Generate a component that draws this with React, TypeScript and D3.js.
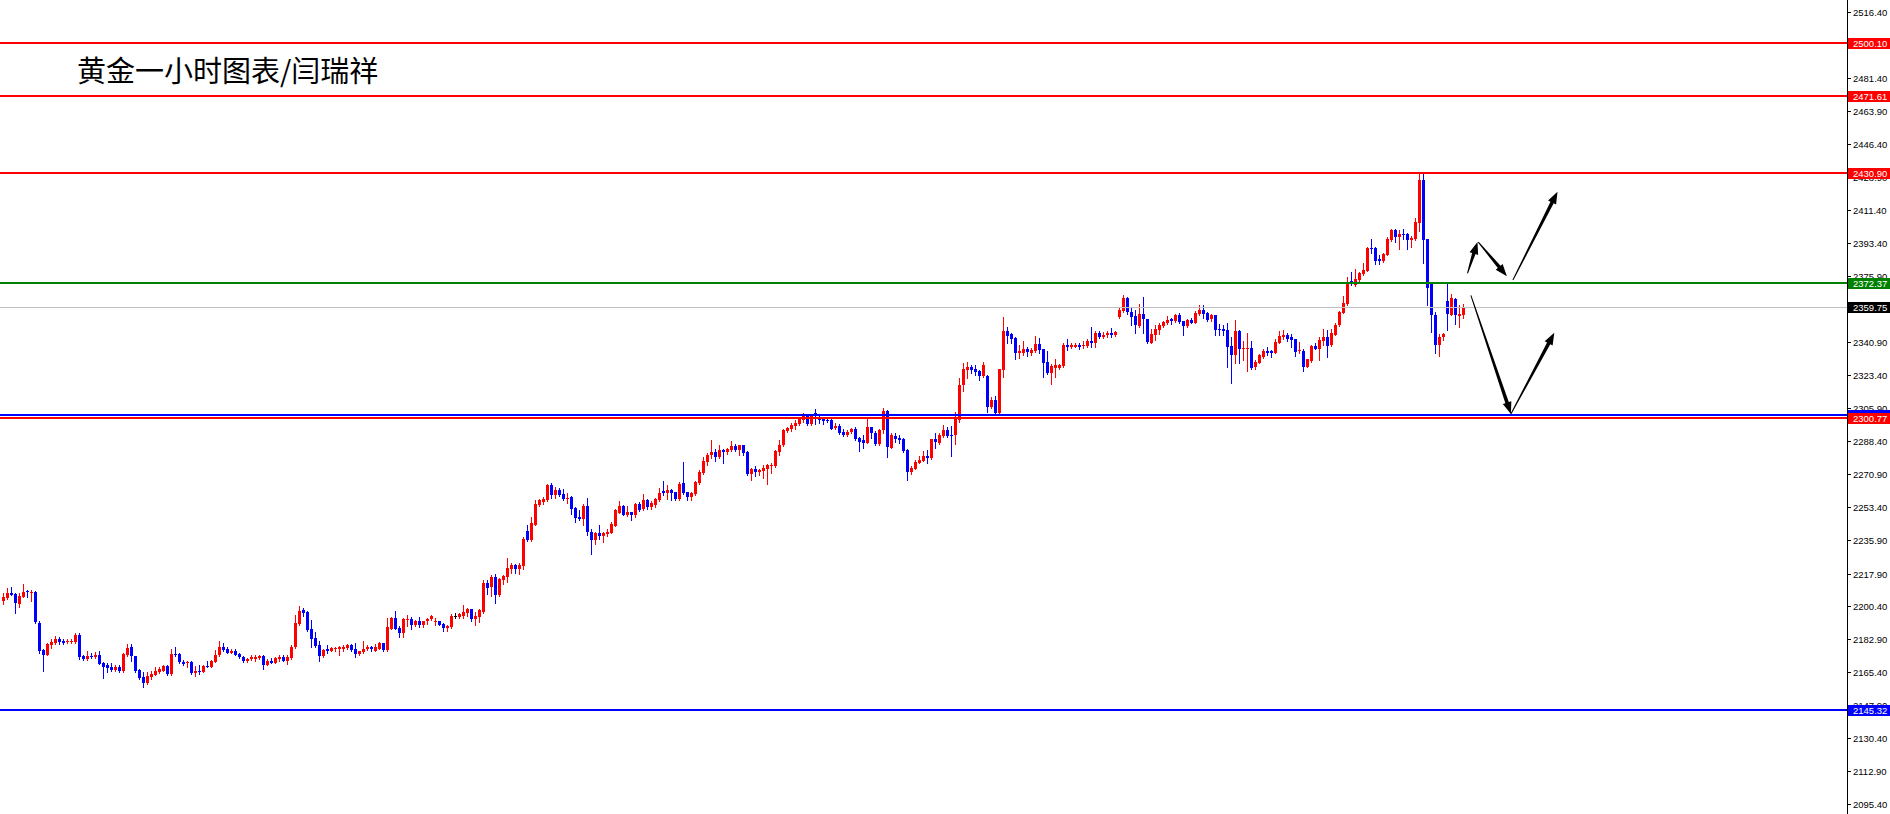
import { useEffect, useRef } from "react";
import * as d3 from "d3";

const W = 1890;
const H = 814;

const opens = [
  2203.5, 2204.7, 2207.7, 2207.0, 2201.7, 2205.6, 2208.8, 2207.9, 2208.1, 2191.8,
  2177.2, 2174.8, 2179.7, 2180.8, 2182.9, 2182.2, 2181.3, 2181.3, 2181.5, 2185.2,
  2174.1, 2172.3, 2174.1, 2173.3, 2174.6, 2170.2, 2169.1, 2168.4, 2166.6, 2168.0,
  2166.3, 2174.6, 2178.8, 2174.1, 2166.6, 2163.1, 2159.5, 2162.7, 2164.1, 2165.5,
  2166.3, 2168.7, 2164.5, 2175.1, 2175.1, 2170.9, 2170.2, 2170.9, 2164.8, 2166.3,
  2165.7, 2168.7, 2168.4, 2171.0, 2174.4, 2178.6, 2177.8, 2175.8, 2176.9, 2175.1,
  2173.7, 2171.2, 2172.3, 2172.3, 2173.0, 2174.1, 2169.4, 2171.6, 2170.5, 2172.3,
  2173.7, 2171.6, 2173.0, 2178.6, 2191.1, 2198.5, 2197.3, 2188.2, 2183.6, 2179.7,
  2174.1, 2177.9, 2176.9, 2177.6, 2177.9, 2177.6, 2178.3, 2179.7, 2177.9, 2175.1,
  2176.2, 2177.6, 2178.6, 2176.9, 2177.9, 2180.8, 2177.2, 2188.6, 2194.3, 2188.8,
  2186.1, 2193.2, 2193.5, 2190.5, 2192.7, 2190.5, 2192.8, 2193.5, 2192.0, 2192.7,
  2191.1, 2189.1, 2189.3, 2195.6, 2194.6, 2195.3, 2196.8, 2198.9, 2193.7, 2195.0,
  2197.6, 2213.0, 2210.6, 2216.2, 2206.5, 2214.5, 2216.2, 2220.3, 2222.4, 2220.3,
  2221.9, 2240.7, 2235.7, 2243.9, 2254.3, 2256.1, 2257.0, 2265.0, 2259.6, 2262.3,
  2260.0, 2257.7, 2258.4, 2252.7, 2248.0, 2246.7, 2253.8, 2240.2, 2235.7, 2239.3,
  2237.9, 2238.9, 2239.6, 2243.3, 2250.3, 2253.8, 2249.2, 2250.6, 2249.2, 2254.9,
  2252.0, 2257.0, 2253.4, 2254.5, 2256.9, 2261.7, 2260.5, 2262.2, 2261.0, 2257.3,
  2265.8, 2261.0, 2258.7, 2260.1, 2265.8, 2271.1, 2277.3, 2280.9, 2282.4, 2279.6,
  2283.5, 2282.4, 2283.5, 2285.6, 2283.5, 2286.0, 2282.4, 2270.8, 2273.4, 2272.0,
  2272.5, 2273.6, 2275.2, 2275.0, 2282.4, 2286.2, 2293.8, 2294.7, 2296.3, 2297.3,
  2299.5, 2301.9, 2297.3, 2303.0, 2300.5, 2300.0, 2299.5, 2299.5, 2295.2, 2296.3,
  2293.4, 2291.5, 2293.1, 2294.7, 2290.1, 2288.8, 2287.4, 2295.7, 2292.7, 2286.7,
  2294.2, 2304.5, 2284.8, 2291.0, 2290.1, 2289.6, 2283.6, 2272.1, 2273.7, 2276.9,
  2277.9, 2280.4, 2279.1, 2289.3, 2287.5, 2291.0, 2294.2, 2291.5, 2291.6, 2299.5,
  2318.0, 2326.1, 2327.5, 2326.6, 2325.5, 2322.9, 2322.9, 2306.6, 2310.1, 2303.0,
  2326.1, 2347.0, 2345.2, 2342.9, 2335.3, 2335.3, 2337.4, 2335.3, 2336.2, 2339.9,
  2337.1, 2330.3, 2324.7, 2327.1, 2327.3, 2328.2, 2339.4, 2338.5, 2338.5, 2339.5,
  2338.8, 2339.0, 2341.7, 2340.2, 2345.9, 2343.8, 2344.5, 2345.9, 2344.5, 2354.1,
  2357.6, 2364.2, 2356.9, 2354.8, 2349.6, 2355.8, 2353.0, 2340.6, 2344.8, 2347.3,
  2349.5, 2350.9, 2353.0, 2352.3, 2355.5, 2351.9, 2349.5, 2352.6, 2351.2, 2355.8,
  2358.0, 2356.2, 2353.0, 2355.1, 2347.7, 2347.7, 2347.3, 2338.8, 2334.2, 2346.6,
  2337.1, 2337.4, 2337.8, 2327.5, 2330.0, 2333.2, 2336.4, 2336.0, 2335.3, 2340.6,
  2343.8, 2344.5, 2343.8, 2342.4, 2336.0, 2336.4, 2327.8, 2330.7, 2338.8, 2337.4,
  2341.7, 2343.8, 2339.2, 2344.8, 2349.8, 2356.5, 2361.2, 2373.6, 2371.1, 2373.9,
  2377.1, 2378.9, 2390.9, 2390.9, 2384.9, 2384.2, 2387.4, 2395.2, 2400.5, 2396.9,
  2398.3, 2398.3, 2395.2, 2395.9, 2404.0, 2427.1, 2395.5, 2372.5, 2355.5, 2339.2,
  2343.4, 2362.6, 2355.5, 2364.0, 2354.8, 2355.5,
];

const highs = [
  2207.7, 2210.2, 2210.7, 2207.4, 2207.7, 2212.3, 2209.1, 2209.1, 2208.4, 2192.7,
  2177.6, 2180.8, 2182.9, 2184.7, 2184.0, 2183.3, 2182.9, 2182.9, 2186.1, 2186.1,
  2174.4, 2176.9, 2175.5, 2176.2, 2176.9, 2170.9, 2170.2, 2170.2, 2169.1, 2169.4,
  2175.5, 2180.4, 2180.3, 2174.1, 2167.0, 2165.5, 2165.5, 2165.9, 2168.0, 2168.0,
  2169.3, 2169.4, 2177.9, 2178.6, 2175.5, 2171.9, 2171.2, 2171.2, 2168.7, 2169.4,
  2169.4, 2171.2, 2171.9, 2177.2, 2182.2, 2180.8, 2178.6, 2177.9, 2177.6, 2175.5,
  2174.1, 2173.0, 2174.4, 2174.4, 2174.8, 2174.4, 2172.3, 2173.0, 2173.7, 2174.4,
  2174.4, 2174.8, 2179.7, 2195.8, 2200.6, 2199.6, 2197.8, 2193.2, 2186.8, 2182.2,
  2177.9, 2179.7, 2179.0, 2179.0, 2179.4, 2179.7, 2180.4, 2180.4, 2181.1, 2176.9,
  2182.2, 2180.1, 2179.4, 2180.4, 2181.5, 2181.1, 2194.3, 2194.6, 2197.8, 2190.0,
  2194.1, 2195.9, 2194.6, 2193.2, 2194.6, 2192.8, 2194.4, 2195.9, 2194.1, 2192.8,
  2191.8, 2190.7, 2196.4, 2197.1, 2197.1, 2201.3, 2199.4, 2199.2, 2197.6, 2198.9,
  2214.5, 2214.5, 2216.9, 2217.6, 2215.3, 2217.3, 2226.2, 2223.7, 2223.0, 2223.3,
  2237.1, 2243.7, 2247.8, 2257.0, 2257.7, 2258.8, 2265.5, 2266.2, 2263.7, 2263.4,
  2263.0, 2260.5, 2259.1, 2253.4, 2251.7, 2254.9, 2258.1, 2241.6, 2240.2, 2243.5,
  2240.2, 2241.7, 2245.3, 2252.0, 2256.6, 2254.5, 2253.8, 2250.6, 2255.6, 2255.9,
  2260.2, 2257.7, 2256.5, 2258.0, 2263.3, 2267.2, 2264.9, 2262.6, 2261.5, 2266.8,
  2277.1, 2261.5, 2261.2, 2267.2, 2272.9, 2280.0, 2282.1, 2288.8, 2284.2, 2286.2,
  2284.2, 2284.9, 2288.1, 2287.0, 2286.3, 2286.3, 2282.8, 2273.8, 2275.0, 2273.6,
  2275.4, 2276.1, 2276.8, 2283.5, 2288.8, 2295.0, 2295.9, 2297.7, 2299.5, 2300.9,
  2303.0, 2302.6, 2302.6, 2305.3, 2302.3, 2301.2, 2300.5, 2300.5, 2297.7, 2297.3,
  2294.5, 2294.1, 2295.2, 2295.6, 2290.6, 2291.3, 2300.2, 2295.9, 2293.8, 2294.7,
  2305.9, 2304.9, 2292.5, 2292.5, 2291.6, 2290.0, 2283.9, 2275.1, 2278.3, 2280.4,
  2282.9, 2283.6, 2289.6, 2292.5, 2292.5, 2296.7, 2296.0, 2296.3, 2304.0, 2322.0,
  2330.0, 2330.3, 2328.7, 2328.6, 2326.1, 2330.5, 2323.2, 2311.9, 2312.2, 2326.8,
  2354.4, 2349.1, 2345.9, 2343.4, 2339.4, 2341.7, 2338.5, 2337.6, 2344.1, 2342.9,
  2337.4, 2336.0, 2329.3, 2331.7, 2329.3, 2340.2, 2342.4, 2340.2, 2340.6, 2340.2,
  2341.7, 2342.4, 2349.1, 2346.6, 2347.0, 2346.3, 2347.0, 2348.4, 2347.0, 2359.7,
  2366.0, 2365.1, 2359.0, 2358.0, 2361.2, 2365.1, 2353.4, 2347.7, 2350.0, 2350.9,
  2352.3, 2354.8, 2353.7, 2355.8, 2356.2, 2352.3, 2353.3, 2353.7, 2357.3, 2360.4,
  2360.4, 2356.9, 2355.8, 2355.5, 2350.5, 2350.2, 2350.9, 2343.8, 2352.6, 2347.3,
  2341.3, 2345.6, 2341.3, 2331.4, 2334.6, 2337.4, 2338.1, 2336.7, 2342.4, 2347.0,
  2347.3, 2345.6, 2345.2, 2342.7, 2341.0, 2337.1, 2332.1, 2339.5, 2340.2, 2343.8,
  2348.0, 2347.3, 2347.7, 2350.9, 2357.6, 2365.4, 2375.3, 2378.2, 2379.9, 2378.2,
  2383.1, 2391.6, 2395.5, 2391.6, 2387.0, 2388.4, 2396.6, 2400.8, 2401.2, 2400.5,
  2400.8, 2398.7, 2397.3, 2406.7, 2430.6, 2430.6, 2395.9, 2372.8, 2356.9, 2345.5,
  2345.9, 2372.5, 2366.4, 2364.3, 2360.4, 2361.1,
];

const lows = [
  2201.7, 2204.2, 2206.5, 2197.1, 2199.9, 2205.2, 2205.6, 2203.5, 2191.8, 2175.8,
  2166.3, 2174.4, 2178.5, 2180.4, 2180.4, 2180.4, 2181.1, 2180.8, 2181.1, 2172.6,
  2171.9, 2171.9, 2173.0, 2173.0, 2169.8, 2162.5, 2165.7, 2166.3, 2166.3, 2165.7,
  2165.7, 2174.1, 2171.4, 2165.7, 2161.6, 2157.4, 2159.2, 2162.0, 2163.8, 2165.2,
  2165.9, 2164.1, 2164.1, 2174.1, 2170.5, 2169.4, 2168.0, 2164.5, 2163.4, 2164.5,
  2165.5, 2168.0, 2168.0, 2170.7, 2174.1, 2176.9, 2175.5, 2175.5, 2174.4, 2173.0,
  2170.9, 2170.9, 2171.9, 2171.6, 2172.6, 2167.3, 2169.1, 2170.2, 2170.2, 2171.6,
  2171.2, 2169.8, 2172.6, 2178.3, 2190.7, 2195.3, 2187.5, 2178.6, 2178.6, 2171.6,
  2173.7, 2175.8, 2176.5, 2176.9, 2174.8, 2176.9, 2177.9, 2176.9, 2173.3, 2174.8,
  2175.5, 2177.2, 2176.5, 2176.5, 2177.6, 2176.9, 2176.9, 2188.2, 2188.2, 2184.3,
  2184.0, 2190.0, 2188.6, 2190.2, 2189.3, 2189.3, 2191.1, 2193.2, 2190.5, 2190.4,
  2187.3, 2187.5, 2188.9, 2194.3, 2194.3, 2194.3, 2195.6, 2192.8, 2190.7, 2192.3,
  2197.1, 2207.0, 2205.9, 2202.4, 2206.1, 2212.3, 2213.4, 2218.0, 2218.0, 2217.7,
  2220.1, 2235.4, 2235.4, 2243.5, 2253.8, 2254.9, 2256.6, 2258.1, 2258.1, 2259.1,
  2257.0, 2255.6, 2249.5, 2245.3, 2246.4, 2243.7, 2238.6, 2228.3, 2233.6, 2236.4,
  2234.8, 2237.9, 2239.3, 2243.2, 2249.9, 2248.8, 2248.5, 2246.4, 2248.1, 2251.3,
  2251.7, 2252.4, 2252.0, 2253.5, 2256.6, 2259.6, 2257.3, 2256.9, 2256.9, 2256.9,
  2260.1, 2256.9, 2256.9, 2259.8, 2265.4, 2270.7, 2275.5, 2279.3, 2277.8, 2279.3,
  2276.8, 2281.4, 2283.2, 2283.2, 2281.0, 2281.0, 2270.4, 2267.6, 2269.7, 2270.4,
  2268.6, 2265.4, 2271.5, 2274.6, 2280.7, 2285.6, 2293.4, 2293.8, 2294.5, 2297.0,
  2298.7, 2296.6, 2297.0, 2297.3, 2298.0, 2297.3, 2298.4, 2294.7, 2294.5, 2292.0,
  2290.9, 2290.9, 2292.4, 2288.8, 2283.2, 2284.9, 2287.1, 2290.2, 2286.3, 2286.3,
  2292.8, 2280.0, 2284.5, 2288.0, 2287.1, 2282.7, 2267.6, 2270.8, 2273.3, 2276.5,
  2277.6, 2276.9, 2278.8, 2284.5, 2286.8, 2290.7, 2290.7, 2280.4, 2286.8, 2298.7,
  2315.1, 2321.6, 2324.7, 2323.4, 2320.8, 2322.5, 2303.9, 2305.7, 2302.7, 2302.7,
  2322.2, 2340.6, 2340.3, 2332.1, 2332.3, 2333.9, 2333.5, 2333.9, 2335.6, 2334.9,
  2322.5, 2323.9, 2318.6, 2322.2, 2326.8, 2327.5, 2336.7, 2337.6, 2338.1, 2337.1,
  2337.6, 2338.1, 2338.5, 2338.1, 2342.9, 2342.9, 2343.8, 2343.4, 2344.1, 2353.5,
  2356.9, 2355.8, 2349.8, 2345.9, 2349.1, 2345.6, 2340.2, 2340.2, 2342.0, 2345.2,
  2349.1, 2350.5, 2350.5, 2351.6, 2350.9, 2344.8, 2349.1, 2350.9, 2350.9, 2355.5,
  2353.7, 2352.3, 2352.3, 2344.8, 2344.8, 2344.8, 2327.8, 2319.3, 2330.0, 2330.0,
  2331.4, 2325.7, 2326.4, 2326.8, 2329.6, 2332.4, 2334.2, 2333.2, 2334.9, 2340.2,
  2342.7, 2341.3, 2338.5, 2333.5, 2335.3, 2325.7, 2327.5, 2330.3, 2337.1, 2331.4,
  2339.2, 2332.8, 2338.8, 2344.5, 2349.5, 2356.2, 2360.8, 2371.1, 2370.7, 2373.6,
  2376.4, 2378.5, 2388.1, 2382.4, 2382.4, 2383.5, 2387.0, 2394.8, 2394.1, 2390.5,
  2395.5, 2390.5, 2391.6, 2395.2, 2400.1, 2382.8, 2360.6, 2346.4, 2335.3, 2333.8,
  2342.3, 2347.3, 2355.1, 2350.5, 2348.7, 2354.0,
];

const closes = [
  2205.2, 2207.4, 2206.7, 2202.0, 2206.1, 2208.1, 2207.9, 2208.2, 2191.9, 2176.9,
  2174.8, 2180.4, 2181.5, 2183.3, 2181.5, 2181.1, 2181.8, 2182.2, 2185.2, 2173.7,
  2172.3, 2174.1, 2173.3, 2174.6, 2169.8, 2168.4, 2167.5, 2166.6, 2168.0, 2166.3,
  2175.1, 2178.5, 2174.1, 2166.3, 2162.4, 2159.5, 2163.4, 2164.5, 2166.3, 2167.0,
  2168.7, 2164.5, 2175.1, 2174.4, 2170.9, 2169.8, 2170.9, 2164.8, 2166.3, 2165.7,
  2168.7, 2168.0, 2171.4, 2174.4, 2178.6, 2177.2, 2175.8, 2176.9, 2174.8, 2173.3,
  2171.2, 2172.6, 2173.3, 2173.7, 2174.1, 2169.4, 2171.6, 2170.5, 2173.0, 2173.7,
  2171.6, 2173.7, 2178.6, 2191.8, 2198.0, 2196.7, 2187.9, 2183.3, 2179.4, 2174.1,
  2177.2, 2176.9, 2178.5, 2178.5, 2178.6, 2179.0, 2179.7, 2177.2, 2175.1, 2176.5,
  2177.9, 2179.0, 2177.6, 2178.6, 2180.8, 2177.2, 2189.3, 2194.3, 2188.6, 2186.5,
  2193.5, 2193.9, 2190.5, 2192.7, 2190.5, 2192.7, 2193.9, 2195.3, 2192.7, 2190.5,
  2189.0, 2190.0, 2195.3, 2195.6, 2196.2, 2197.6, 2198.9, 2193.7, 2195.3, 2198.5,
  2213.0, 2210.2, 2215.9, 2206.5, 2215.0, 2216.6, 2221.0, 2222.4, 2220.3, 2222.4,
  2236.4, 2235.7, 2244.6, 2254.9, 2257.0, 2257.5, 2265.0, 2259.6, 2262.3, 2259.6,
  2257.5, 2258.1, 2252.2, 2247.4, 2246.7, 2253.8, 2240.2, 2235.7, 2239.3, 2237.9,
  2239.6, 2240.2, 2244.2, 2251.7, 2253.8, 2249.2, 2250.6, 2249.2, 2254.9, 2251.7,
  2257.0, 2253.4, 2255.5, 2257.5, 2260.8, 2260.8, 2262.2, 2260.5, 2257.5, 2265.4,
  2260.5, 2258.7, 2260.8, 2266.5, 2272.0, 2277.7, 2280.9, 2282.4, 2280.0, 2283.5,
  2282.4, 2284.2, 2285.6, 2283.5, 2286.0, 2282.1, 2270.8, 2273.4, 2272.0, 2272.9,
  2274.1, 2275.5, 2275.5, 2283.0, 2286.3, 2294.1, 2295.4, 2296.8, 2297.7, 2299.8,
  2302.1, 2297.3, 2302.1, 2301.6, 2299.5, 2299.1, 2298.9, 2295.0, 2296.3, 2292.7,
  2291.5, 2293.4, 2294.7, 2289.5, 2287.9, 2287.4, 2295.7, 2292.4, 2286.7, 2294.1,
  2304.5, 2285.4, 2291.6, 2289.4, 2288.9, 2283.2, 2272.1, 2274.2, 2277.4, 2278.3,
  2280.4, 2279.3, 2289.3, 2288.0, 2291.6, 2294.2, 2291.0, 2291.2, 2299.9, 2318.1,
  2326.6, 2327.5, 2326.1, 2325.2, 2323.1, 2328.7, 2306.6, 2310.1, 2303.0, 2326.4,
  2347.0, 2344.1, 2342.6, 2335.3, 2336.4, 2337.4, 2335.6, 2336.7, 2339.9, 2336.7,
  2330.0, 2324.3, 2328.2, 2328.5, 2328.7, 2339.4, 2338.5, 2339.2, 2339.5, 2338.1,
  2339.5, 2341.7, 2340.2, 2345.9, 2343.8, 2344.9, 2345.9, 2344.5, 2346.4, 2358.0,
  2364.2, 2356.9, 2354.4, 2349.8, 2355.8, 2353.0, 2340.8, 2345.2, 2348.0, 2350.2,
  2351.6, 2352.6, 2352.3, 2355.1, 2351.6, 2349.5, 2352.6, 2351.2, 2356.5, 2358.0,
  2355.8, 2352.6, 2355.1, 2347.3, 2347.3, 2347.0, 2338.5, 2334.2, 2346.6, 2337.1,
  2337.8, 2337.8, 2327.1, 2330.3, 2333.9, 2336.4, 2335.3, 2335.3, 2340.9, 2344.1,
  2344.5, 2342.4, 2342.0, 2335.6, 2336.7, 2327.8, 2331.7, 2338.8, 2337.4, 2342.0,
  2343.8, 2338.8, 2345.6, 2350.2, 2356.9, 2361.5, 2372.1, 2371.8, 2374.6, 2377.5,
  2379.2, 2390.9, 2390.2, 2384.2, 2384.2, 2387.7, 2395.5, 2400.5, 2396.9, 2398.3,
  2397.8, 2395.2, 2396.2, 2404.9, 2427.1, 2395.2, 2369.5, 2355.5, 2339.2, 2343.8,
  2345.2, 2355.8, 2364.3, 2355.1, 2355.8, 2359.75,
];

// price axis
const tickValues = [
  2516.4, 2498.9, 2481.4, 2463.9, 2446.4, 2428.9, 2411.4, 2393.4, 2375.9, 2358.4,
  2340.9, 2323.4, 2305.9, 2288.4, 2270.9, 2253.4, 2235.9, 2217.9, 2200.4, 2182.9,
  2165.4, 2147.9, 2130.4, 2112.9, 2095.4,
];

// horizontal levels (drawn in this order, later ones on top)
const levelPrices = [2500.1, 2471.61, 2430.9, 2372.37, 2359.75, 2302.2, 2300.77, 2145.32];
const levelColors = ["#ff0000", "#ff0000", "#ff0000", "#008000", "#c0c0c0", "#0000ff", "#ff0000", "#0000ff"];
const levelLabelBg = ["#ff0000", "#ff0000", "#ff0000", "#008000", "#000000", "#0000ff", "#ff0000", "#0000ff"];
const levelWidths = [2, 2, 2, 2, 1, 2, 2, 2];

// hand-drawn arrows: [bar index, price]
const arrowFrom = [
  [366.0, 2377.5],
  [368.7, 2394.1],
  [377.35, 2373.9],
  [366.85, 2365.8],
  [376.85, 2302.7],
];
const arrowTo = [
  [368.5, 2394.1],
  [375.85, 2376.0],
  [388.5, 2420.8],
  [376.85, 2302.7],
  [387.7, 2345.9],
];

const title = "黄金一小时图表/闫瑞祥";

export default function App() {
  const ref = useRef<SVGSVGElement>(null);

  useEffect(() => {
    if (!ref.current) return;
    const svg = d3.select(ref.current);
    svg.selectAll("*").remove();

    const axisX = 1847;
    const x = d3.scaleLinear().domain([0, 365]).range([3.5, 1463.5]);
    const y = d3.scaleLinear().domain([2516.4, 2095.4]).range([12, 804]);

    svg.append("rect").attr("width", W).attr("height", H).attr("fill", "#ffffff");

    // candles
    const bars = d3.range(opens.length).map((i) => ({
      i,
      o: opens[i],
      h: highs[i],
      l: lows[i],
      c: closes[i],
    }));
    const colorOf = (d: { o: number; c: number }) =>
      d.c > d.o ? "#ff0000" : d.c < d.o ? "#0000ff" : "#000000";

    const g = svg.append("g").attr("shape-rendering", "crispEdges");
    g.selectAll("rect.wick")
      .data(bars)
      .enter()
      .append("rect")
      .attr("class", "wick")
      .attr("x", (d) => Math.floor(x(d.i)))
      .attr("width", 1)
      .attr("y", (d) => Math.round(y(d.h)))
      .attr("height", (d) => Math.max(1, Math.round(y(d.l)) - Math.round(y(d.h)) + 1))
      .attr("fill", colorOf);
    g.selectAll("rect.body")
      .data(bars)
      .enter()
      .append("rect")
      .attr("class", "body")
      .attr("x", (d) => Math.floor(x(d.i)) - 1)
      .attr("width", 3)
      .attr("y", (d) => Math.round(y(Math.max(d.o, d.c))))
      .attr("height", (d) =>
        Math.max(1, Math.round(y(Math.min(d.o, d.c))) - Math.round(y(Math.max(d.o, d.c))))
      )
      .attr("fill", colorOf);

    // horizontal levels
    const lv = svg.append("g").attr("shape-rendering", "crispEdges");
    levelPrices.forEach((p, k) => {
      const yy = Math.round(y(p));
      lv.append("rect")
        .attr("x", 0)
        .attr("width", axisX)
        .attr("y", yy - (levelWidths[k] === 2 ? 1 : 0))
        .attr("height", levelWidths[k])
        .attr("fill", levelColors[k]);
    });

    // arrows
    const ag = svg.append("g");
    arrowFrom.forEach((a, k) => {
      const b = arrowTo[k];
      const x0 = x(a[0]);
      const y0 = y(a[1]);
      const x1 = x(b[0]);
      const y1 = y(b[1]);
      const len = Math.hypot(x1 - x0, y1 - y0);
      const ux = (x1 - x0) / len;
      const uy = (y1 - y0) / len;
      const nx = -uy;
      const ny = ux;
      const head = 12;
      const hw = 4.5;
      const bx = x1 - ux * head;
      const by = y1 - uy * head;
      const w0 = 0.5;
      const w1 = 1.8;
      const pts: [number, number][] = [
        [x0 + nx * w0, y0 + ny * w0],
        [bx + nx * w1, by + ny * w1],
        [bx + nx * hw, by + ny * hw],
        [x1, y1],
        [bx - nx * hw, by - ny * hw],
        [bx - nx * w1, by - ny * w1],
        [x0 - nx * w0, y0 - ny * w0],
      ];
      ag.append("path")
        .attr("d", d3.line()(pts) + "Z")
        .attr("fill", "#000000");
    });

    // right price axis
    const ax = svg.append("g").attr("shape-rendering", "crispEdges");
    ax.append("rect").attr("x", axisX).attr("y", 0).attr("width", 1).attr("height", H).attr("fill", "#000");
    tickValues.forEach((t) => {
      const yy = Math.round(y(t));
      ax.append("rect").attr("x", axisX + 1).attr("y", yy).attr("width", 3).attr("height", 1).attr("fill", "#000");
      svg.append("text")
        .attr("x", axisX + 6)
        .attr("y", yy + 0.5)
        .attr("dominant-baseline", "central")
        .attr("font-family", "'Liberation Sans', Arial, sans-serif")
        .attr("font-size", 9.5)
        .attr("fill", "#000")
        .text(t.toFixed(2));
    });

    // level labels
    levelPrices.forEach((p, k) => {
      const yy = Math.round(y(p));
      svg.append("rect")
        .attr("x", axisX + 1)
        .attr("y", yy - 5)
        .attr("width", W - axisX - 1)
        .attr("height", 11)
        .attr("fill", levelLabelBg[k])
        .attr("shape-rendering", "crispEdges");
      svg.append("text")
        .attr("x", axisX + 6)
        .attr("y", yy + 0.5)
        .attr("dominant-baseline", "central")
        .attr("font-family", "'Liberation Sans', Arial, sans-serif")
        .attr("font-size", 9.5)
        .attr("fill", "#ffffff")
        .text(p.toFixed(2));
    });

    // title
    svg.append("text")
      .attr("x", 77)
      .attr("y", 82)
      .attr("font-family", "'Noto Sans CJK SC', sans-serif")
      .attr("font-size", 29)
      .attr("fill", "#000")
      .text(title);
  }, []);

  return (
    <svg
      ref={ref}
      width={W}
      height={H}
      style={{ position: "absolute", left: 0, top: 0, display: "block" }}
    />
  );
}
